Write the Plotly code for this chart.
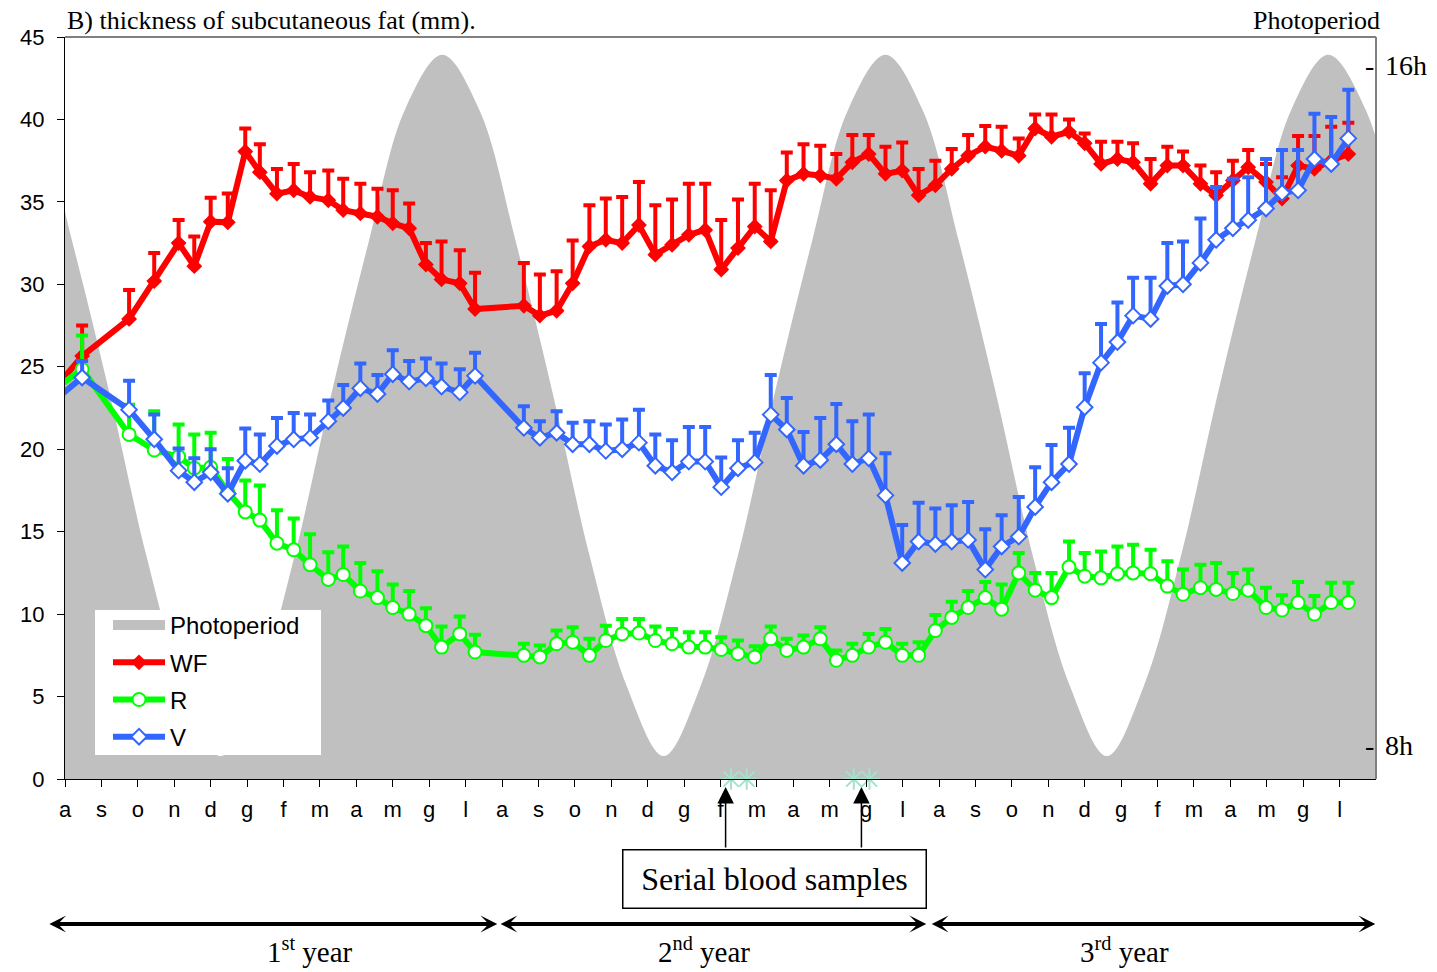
import plotly.graph_objects as go

# ---- sampling dates (months from 1 August of year 1) ----
sample_month = [-0.46, 0.47, 1.76, 2.45, 3.12, 3.55, 4.0, 4.47, 4.95, 5.35, 5.82, 6.28, 6.73,
                7.23, 7.64, 8.11, 8.58, 9.0, 9.45, 9.91, 10.34, 10.84, 11.26, 12.6, 13.04, 13.5,
                13.94, 14.4, 14.85, 15.3, 15.76, 16.21, 16.67, 17.13, 17.58, 18.02, 18.48, 18.94,
                19.38, 19.82, 20.28, 20.74, 21.18, 21.62, 22.07, 22.53, 22.99, 23.44, 23.9, 24.35,
                24.8, 25.27, 25.72, 26.19, 26.64, 27.09, 27.57, 28.0, 28.45, 28.9, 29.33, 29.81,
                30.27, 30.7, 31.18, 31.61, 32.07, 32.49, 32.98, 33.42, 33.86, 34.31, 34.77, 35.24]

# ---- subcutaneous fat thickness (mm) and upper error ----
wf = [23.2, 25.65, 27.9, 30.2, 32.5, 31.1, 33.8, 33.76, 38.05, 36.8, 35.5, 35.7, 35.3, 35.1,
      34.5, 34.3, 34.1, 33.7, 33.4, 31.2, 30.3, 30.06, 28.5, 28.7, 28.1, 28.4, 30.06, 32.3,
      32.7, 32.5, 33.6, 31.8, 32.4, 33.0, 33.3, 30.9, 32.2, 33.5, 32.6, 36.3, 36.7, 36.6,
      36.4, 37.4, 37.9, 36.7, 36.9, 35.4, 36.0, 37.0, 37.8, 38.35, 38.1, 37.8, 39.45, 38.95,
      39.25, 38.55, 37.3, 37.6, 37.4, 36.1, 37.2, 37.2, 36.1, 35.4, 36.3, 37.1, 36.2, 35.2,
      37.2, 37.0, 37.5, 37.9]
wf_err = [0, 1.85, 1.75, 1.7, 1.4, 1.8, 1.45, 1.75, 1.4, 1.7, 1.5, 1.6, 1.5, 1.8, 1.9, 1.8,
          1.7, 2.0, 1.5, 1.3, 2.3, 2.0, 2.2, 2.6, 2.5, 2.4, 2.6, 2.5, 2.5, 2.8, 2.6, 3.0, 2.75,
          3.1, 2.8, 3.0, 2.95, 2.6, 3.1, 1.7, 1.8, 1.8, 1.5, 1.65, 1.15, 1.65, 1.7, 1.6, 1.5,
          1.2, 1.25, 1.25, 1.45, 1.05, 0.85, 1.35, 0.75, 0.6, 1.35, 1.05, 1.15, 1.5, 1.15, 0.85,
          1.1, 1.4, 1.2, 1.05, 1.1, 1.3, 1.8, 2.0, 2.05, 1.9]

r = [23.35, 24.85, 20.9, 19.95, 19.55, 18.85, 18.9, 17.4, 16.2, 15.7, 14.3, 13.9, 13.0, 12.1,
     12.4, 11.4, 11.0, 10.4, 10.0, 9.3, 8.0, 8.8, 7.7, 7.5, 7.4, 8.2, 8.3, 7.5, 8.4, 8.8, 8.85,
     8.4, 8.2, 8.0, 8.0, 7.85, 7.6, 7.4, 8.5, 7.8, 8.0, 8.5, 7.2, 7.5, 8.0, 8.3, 7.5, 7.5, 9.0,
     9.8, 10.4, 11.0, 10.3, 12.5, 11.45, 11.0, 12.85, 12.3, 12.2, 12.45, 12.5, 12.45, 11.7,
     11.2, 11.6, 11.5, 11.25, 11.45, 10.4, 10.25, 10.7, 10.0, 10.7, 10.7]
r_err = [0, 2.05, 1.8, 2.35, 1.95, 2.05, 2.1, 2.0, 1.9, 2.1, 2.0, 1.9, 1.85, 1.65, 1.7, 1.7,
         1.6, 1.4, 1.4, 1.05, 1.25, 1.05, 1.05, 0.7, 0.7, 0.8, 0.9, 1.0, 0.9, 0.9, 0.85, 0.85,
         0.9, 0.9, 0.9, 0.75, 0.8, 0.65, 0.75, 0.7, 0.7, 0.7, 0.6, 0.7, 0.8, 0.8, 0.7, 0.8, 0.95,
         0.95, 1.0, 0.95, 1.5, 1.2, 1.05, 1.5, 1.55, 1.4, 1.6, 1.65, 1.7, 1.45, 1.5, 1.5, 1.4,
         1.6, 1.25, 1.25, 1.2, 0.9, 1.25, 1.1, 1.2, 1.2]

v = [22.65, 24.35, 22.4, 20.6, 18.7, 18.0, 18.6, 17.3, 19.3, 19.1, 20.2, 20.6, 20.7, 21.7,
     22.5, 23.7, 23.35, 24.55, 24.1, 24.3, 23.8, 23.45, 24.45, 21.3, 20.7, 21.0, 20.3, 20.3,
     19.9, 20.0, 20.4, 19.0, 18.6, 19.25, 19.25, 17.7, 18.85, 19.2, 22.1, 21.2, 19.0, 19.35,
     20.3, 19.1, 19.45, 17.2, 13.1, 14.4, 14.25, 14.4, 14.5, 12.7, 14.1, 14.7, 16.5, 18.0,
     19.1, 22.55, 25.25, 26.5, 28.1, 27.9, 29.9, 30.0, 31.3, 32.7, 33.4, 33.9, 34.6, 35.55,
     35.7, 37.6, 37.3, 38.85]
v_err = [0, 1.0, 1.75, 1.5, 1.35, 1.45, 1.4, 1.55, 1.95, 1.8, 1.7, 1.6, 1.4, 1.25, 1.4, 1.5,
         1.15, 1.45, 1.25, 1.2, 1.4, 1.4, 1.4, 1.3, 1.0, 1.3, 1.3, 1.4, 1.6, 1.8, 2.0, 1.9,
         1.95, 2.1, 2.1, 1.8, 1.7, 1.8, 2.4, 1.9, 2.05, 2.55, 2.45, 2.6, 2.65, 2.55, 2.3, 2.35,
         2.15, 2.2, 2.3, 2.45, 1.9, 2.4, 2.4, 2.25, 2.2, 2.05, 2.35, 2.4, 2.3, 2.5, 2.6, 2.6,
         2.7, 3.2, 3.0, 2.6, 3.0, 2.6, 2.45, 2.75, 2.85, 2.95]

# ---- photoperiod (hours of light) ----
photo_month = [-1.81, -0.80, 0.21, 1.23, 2.24, 3.26, 4.27, 5.28, 6.30, 7.31, 8.33, 9.34, 10.36,
               11.37, 12.39, 13.40, 14.41, 15.43, 16.44, 17.45, 18.47, 19.48, 20.50, 21.51,
               22.53, 23.54, 24.56, 25.57, 26.58, 27.60, 28.61, 29.62, 30.64, 31.65, 32.67,
               33.68, 34.69, 35.71, 36.72]
photo_hours = [16.13, 15.49, 13.91, 12.13, 10.22, 8.69, 7.87, 8.69, 10.22, 12.13, 13.91, 15.49,
               16.13, 15.49, 13.91, 12.13, 10.22, 8.69, 7.87, 8.69, 10.22, 12.13, 13.91, 15.49,
               16.13, 15.49, 13.91, 12.13, 10.22, 8.69, 7.87, 8.69, 10.22, 12.13, 13.91, 15.49,
               16.13, 15.49, 13.91]
photo_ticks = [16, 8]

# ---- serial blood sampling dates ----
blood_month = [18.29, 18.72, 21.66, 22.09]
blood_arrow_month = [18.14, 21.87]
blood_box_month = 19.48

month_names = ["a", "s", "o", "n", "d", "g", "f", "m", "a", "m", "g", "l"]
tick_text = month_names * 3
tick_vals = list(range(len(tick_text)))

year_labels = ["1<sup>st</sup> year", "2<sup>nd</sup> year", "3<sup>rd</sup> year"]
year_spans = [(-0.47, 11.87), (11.92, 23.65), (23.76, 35.98)]
year_label_month = [6.72, 17.54, 29.1]

SANS = "Liberation Sans, Arial, sans-serif"
SERIF = "Liberation Serif, Times New Roman, serif"
RED, GREEN, BLUE, GREY = "#ff0000", "#00ff00", "#3366ff", "#c0c0c0"
MINT = "#a3e2cb"

fig = go.Figure()

# shaded photoperiod curve (drawn on the hidden hours axis, underneath the data)
fig.add_trace(go.Scatter(
    x=photo_month, y=photo_hours, yaxis="y", name="Photoperiod", showlegend=False,
    mode="lines", line=dict(width=0, shape="spline", color=GREY),
    fill="tozeroy", fillcolor=GREY, hoverinfo="skip"))
# legend swatch for the shaded area
fig.add_trace(go.Scatter(
    x=[None], y=[None], yaxis="y", name="Photoperiod", mode="lines",
    line=dict(width=14, color=GREY), legendgroup="p"))


def series(y, err, name, color, symbol, size, fill):
    return go.Scatter(
        x=sample_month, y=y, yaxis="y2", name=name, mode="lines+markers",
        legendgroup=name,
        line=dict(color=color, width=6),
        marker=dict(symbol=symbol, size=size, color=fill,
                    line=dict(color=color, width=2)),
        error_y=dict(type="data", symmetric=False, array=err,
                     arrayminus=[0] * len(err), color=color, thickness=4, width=6))


fig.add_trace(series(wf, wf_err, "WF", RED, "diamond", 10, RED))
fig.add_trace(series(r, r_err, "R", GREEN, "circle", 13, "white"))
fig.add_trace(series(v, v_err, "V", BLUE, "diamond", 12, "white"))

fig.add_trace(go.Scatter(
    x=blood_month, y=[0] * len(blood_month), yaxis="y2", mode="markers",
    showlegend=False, cliponaxis=False, hoverinfo="skip",
    marker=dict(symbol="asterisk-open", size=18, color=MINT,
                line=dict(color=MINT, width=2))))

annotations = [
    dict(text="B) thickness of subcutaneous fat (mm).", xref="paper", yref="paper",
         x=0, y=1, xanchor="left", yanchor="bottom", showarrow=False,
         font=dict(family=SERIF, size=26, color="black")),
    dict(text="Photoperiod", xref="paper", yref="paper", x=1.0046, y=1,
         xanchor="right", yanchor="bottom", showarrow=False,
         font=dict(family=SERIF, size=26, color="black")),
]
for hrs in photo_ticks:
    annotations.append(dict(text="-", xref="paper", yref="y", x=0.9947, y=hrs,
                            xanchor="center", yanchor="middle", showarrow=False,
                            font=dict(family=SERIF, size=28, color="black")))
    annotations.append(dict(text=f"{hrs}h", xref="paper", yref="y", x=1.0053, y=hrs,
                            xanchor="left", yanchor="middle", showarrow=False,
                            font=dict(family=SERIF, size=28, color="black")))

# serial blood samples box and its arrows
annotations.append(dict(text="Serial blood samples", xref="x", yref="paper",
                        x=blood_box_month, y=-0.1341, xanchor="center", yanchor="middle",
                        showarrow=False, width=298, height=53, borderpad=2,
                        bordercolor="black", borderwidth=1.5, bgcolor="white",
                        font=dict(family=SERIF, size=32, color="black")))
for m in blood_arrow_month:
    annotations.append(dict(text="", xref="x", yref="paper", x=m, y=-0.0108,
                            ax=0, ay=62, showarrow=True, arrowhead=2, arrowsize=2.2,
                            arrowwidth=1.5, arrowcolor="black"))

# year arrows and labels
for (a, b), lab, mid in zip(year_spans, year_labels, year_label_month):
    annotations.append(dict(text="", xref="x", yref="paper", x=b, y=-0.1954,
                            ax=a, axref="x", ay=0, ayref="pixel",
                            showarrow=True, arrowhead=3, arrowside="end+start",
                            arrowsize=0.7, arrowwidth=4, arrowcolor="black"))
    annotations.append(dict(text=lab, xref="x", yref="paper", x=mid, y=-0.2305,
                            xanchor="center", yanchor="middle", showarrow=False,
                            font=dict(family=SERIF, size=29, color="black")))

shapes = [
    # white legend panel
    dict(type="rect", xref="paper", yref="paper", x0=0.0229, x1=0.1953, y0=0.0323, y1=0.2278,
         fillcolor="white", line=dict(width=0), layer="above"),
    dict(type="line", xref="paper", yref="paper", x0=0, x1=1, y0=1, y1=1,
         line=dict(color="#808080", width=2), layer="above"),
    dict(type="line", xref="paper", yref="paper", x0=1, x1=1, y0=0, y1=1,
         line=dict(color="#808080", width=2), layer="above"),
]

fig.update_layout(
    width=1437, height=972,
    margin=dict(l=65, r=61, t=37, b=193),
    paper_bgcolor="white", plot_bgcolor="white",
    font=dict(family=SANS, size=22, color="black"),
    xaxis=dict(range=[0, 36], tickvals=tick_vals, ticktext=tick_text,
               ticks="outside", ticklen=7, tickcolor="black", tickwidth=1,
               showline=True, linecolor="black", linewidth=1,
               showgrid=False, zeroline=False, ticklabelstandoff=4,
               tickfont=dict(family=SANS, size=22)),
    yaxis=dict(range=[7.6, 16.34], visible=False, showgrid=False, zeroline=False),
    yaxis2=dict(range=[0, 45], dtick=5, overlaying="y", side="left", anchor="x",
                ticks="outside", ticklen=7, tickcolor="black", tickwidth=1,
                showline=True, linecolor="black", linewidth=1,
                showgrid=False, zeroline=False, ticklabelstandoff=8,
                tickfont=dict(family=SANS, size=22)),
    legend=dict(x=0.0328, y=0.2372, xanchor="left", yanchor="top",
                bgcolor="rgba(0,0,0,0)", borderwidth=0, traceorder="grouped",
                tracegroupgap=3, itemwidth=52, font=dict(family=SANS, size=24)),
    annotations=annotations, shapes=shapes,
    showlegend=True,
)

fig.write_html("out.html")
